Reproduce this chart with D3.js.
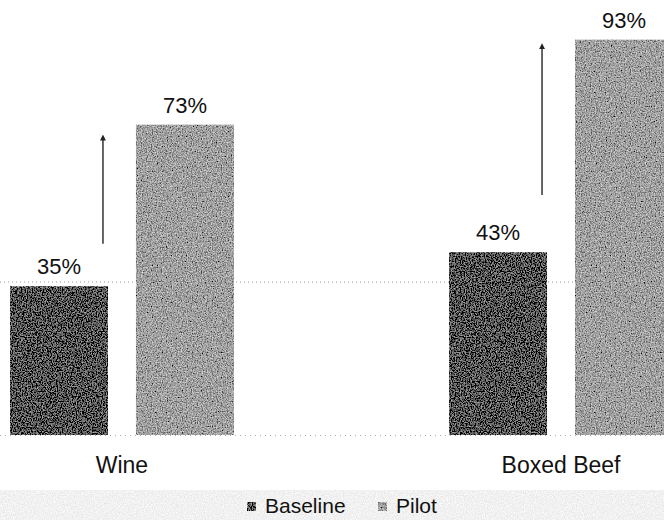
<!DOCTYPE html>
<html><head><meta charset="utf-8">
<script src="https://cdn.jsdelivr.net/npm/d3@7"></script>
<style>html,body{margin:0;padding:0;background:#fff;}svg{display:block;font-family:"Liberation Sans",Arial,sans-serif;}</style>
</head><body>
<script>
const categories = ["Wine", "Boxed Beef"];
const seriesNames = ["Baseline", "Pilot"];
const baselineValues = [35, 43];
const pilotValues = [73, 93];
const valueLabels = [["35%", "73%"], ["43%", "93%"]];
const arrowFrom = [45, 56.5];
const arrowTo = [70, 91.5];
const referenceValue = 36;

const W = 664, H = 520;
const colors = {Baseline: "#555555", Pilot: "#a0a0a0"};

const svg = d3.select("body").append("svg").attr("width", W).attr("height", H);
const defs = svg.append("defs");
function grain(id, amp, freq) {
  const f = defs.append("filter").attr("id", id).attr("x", 0).attr("y", 0).attr("width", 1).attr("height", 1);
  f.append("feTurbulence").attr("type", "fractalNoise").attr("baseFrequency", freq).attr("numOctaves", 2).attr("seed", 3).attr("result", "n");
  f.append("feColorMatrix").attr("in", "n").attr("type", "matrix")
    .attr("values", "1 0 0 0 0  1 0 0 0 0  1 0 0 0 0  0 0 0 0 1").attr("result", "g");
  f.append("feComposite").attr("in", "SourceGraphic").attr("in2", "g").attr("operator", "arithmetic")
    .attr("k1", 0).attr("k2", 1).attr("k3", amp).attr("k4", -amp / 2).attr("result", "m");
  f.append("feComposite").attr("in", "m").attr("in2", "SourceGraphic").attr("operator", "in");
}
grain("grainBar", 1.1, 0.8);
grain("grainBg", 0.35, 0.9);

const y = d3.scaleLinear().domain([0, 100]).range([435, 10]);
const x0 = d3.scaleBand().domain(categories).range([10, 673]).paddingInner(0.49).paddingOuter(0);
const x1 = d3.scaleBand().domain(seriesNames).range([0, x0.bandwidth()]).paddingInner(28 / 126);

// legend background band
svg.append("rect").attr("x", 0).attr("y", 490).attr("width", W).attr("height", 30)
  .attr("fill", "#f1f1f1").attr("filter", "url(#grainBg)");

// reference dotted line and baseline
svg.append("line").attr("x1", 0).attr("x2", W).attr("y1", y(referenceValue)).attr("y2", y(referenceValue))
  .attr("stroke", "#999").attr("stroke-width", 1).attr("stroke-dasharray", "1,3");
svg.append("line").attr("x1", 0).attr("x2", W).attr("y1", y(0) + 0.5).attr("y2", y(0) + 0.5)
  .attr("stroke", "#aaa").attr("stroke-width", 1).attr("stroke-dasharray", "1,4");

const data = categories.map((c, i) => ({
  cat: c, i,
  vals: [{s: "Baseline", v: baselineValues[i], lab: valueLabels[i][0]}, {s: "Pilot", v: pilotValues[i], lab: valueLabels[i][1]}]
}));

const g = svg.selectAll("g.grp").data(data).join("g").attr("class", "grp")
  .attr("transform", d => `translate(${x0(d.cat)},0)`);

g.selectAll("rect").data(d => d.vals).join("rect")
  .attr("x", d => x1(d.s)).attr("width", x1.bandwidth())
  .attr("y", d => y(d.v)).attr("height", d => y(0) - y(d.v))
  .attr("fill", d => colors[d.s]).attr("filter", "url(#grainBar)");

g.selectAll("text.val").data(d => d.vals).join("text").attr("class", "val")
  .attr("x", d => x1(d.s) + x1.bandwidth() / 2).attr("y", d => y(d.v) - 12)
  .attr("text-anchor", "middle").attr("font-size", 22).attr("fill", "#111").text(d => d.lab);

// arrows
defs.append("marker").attr("id", "ah").attr("viewBox", "0 0 10 10").attr("refX", 5).attr("refY", 5)
  .attr("markerWidth", 4).attr("markerHeight", 4).attr("orient", "auto")
  .append("path").attr("d", "M0,0 L10,5 L0,10 z").attr("fill", "#222");
g.append("line")
  .attr("x1", x1("Baseline") + x1.bandwidth() - 5).attr("x2", x1("Baseline") + x1.bandwidth() - 5)
  .attr("y1", d => y(arrowFrom[d.i])).attr("y2", d => y(arrowTo[d.i]))
  .attr("stroke", "#333").attr("stroke-width", 1.5).attr("marker-end", "url(#ah)");

// category labels
g.append("text").attr("x", x0.bandwidth() / 2).attr("y", 473).attr("text-anchor", "middle")
  .attr("font-size", 23).attr("fill", "#111").text(d => d.cat);

// legend
const leg = svg.append("g");
const legX = [247, 378];
seriesNames.forEach((s, i) => {
  leg.append("rect").attr("x", legX[i]).attr("y", 502).attr("width", 9).attr("height", 9)
    .attr("fill", colors[s]).attr("filter", "url(#grainBar)");
  leg.append("text").attr("x", legX[i] + 18).attr("y", 513).attr("font-size", 21).attr("fill", "#111").text(s);
});
</script>
</body></html>
